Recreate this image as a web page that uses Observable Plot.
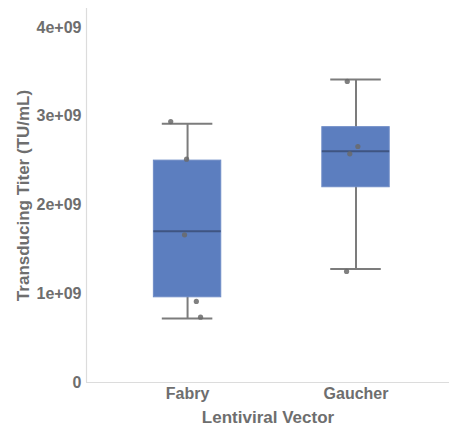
<!DOCTYPE html>
<html><head><meta charset="utf-8">
<script src="https://cdn.jsdelivr.net/npm/d3@7"></script>
<script src="https://cdn.jsdelivr.net/npm/@observablehq/plot@0.6"></script>
<style>
body{margin:0;background:#fff}
#chart svg text{font-weight:bold}
#chart svg g[aria-label="x-axis label"] text, #chart svg g[aria-label="y-axis label"] text{font-size:17px}
</style></head><body><div id="chart"></div>
<script>
const categories = ["Fabry", "Gaucher"];
const lowerWhisker = [0.72e9, 1.28e9];
const q1 = [0.96e9, 2.20e9];
const median = [1.705e9, 2.606e9];
const q3 = [2.50e9, 2.877e9];
const upperWhisker = [2.915e9, 3.414e9];
const fabryPoints = [2.94e9, 2.516e9, 1.664e9, 0.913e9, 0.736e9];
const fabryJitter = [-0.10, -0.006, -0.018, 0.052, 0.077];
const gaucherPoints = [3.392e9, 2.659e9, 2.577e9, 1.251e9];
const gaucherJitter = [-0.052, 0.011, -0.037, -0.056];
const yTicks = [0, 1e9, 2e9, 3e9, 4e9];
const yTickLabels = ["0", "1e+09", "2e+09", "3e+09", "4e+09"];

const boxes = categories.map((c, i) => ({
  cat: c, pos: i + 1, lo: lowerWhisker[i], q1: q1[i], med: median[i], q3: q3[i], hi: upperWhisker[i]
}));
const pts = [
  ...fabryPoints.map((v, i) => ({pos: 1 + fabryJitter[i], v})),
  ...gaucherPoints.map((v, i) => ({pos: 2 + gaucherJitter[i], v}))
];
const xDomain = [0.4, 2.555];
const yDomain = [0, 4.214e9];
const boxHalf = 0.2, capHalf = 0.15;

const chart = Plot.plot({
  width: 449, height: 429,
  marginLeft: 86, marginRight: 0, marginTop: 8, marginBottom: 47,
  style: {fontFamily: "'Liberation Sans', Arial, sans-serif", fontSize: "16px", color: "#6e6e6e", background: "#fff"},
  x: {type: "linear", domain: xDomain, ticks: [1, 2], tickFormat: d => categories[Math.round(d) - 1],
      tickSize: 0, tickPadding: 5, label: "Lentiviral Vector", labelArrow: false, labelAnchor: "center", labelOffset: 40},
  y: {domain: yDomain, ticks: yTicks, tickFormat: d => yTickLabels[yTicks.indexOf(d)],
      tickSize: 0, tickPadding: 5, label: "Transducing Titer (TU/mL)", labelArrow: false, labelAnchor: "center", labelOffset: 70},
  marks: [
    Plot.ruleY([0], {stroke: "#dcdcdc", strokeWidth: 1.2}),
    Plot.ruleX([xDomain[0]], {y1: yDomain[0], y2: yDomain[1], stroke: "#dcdcdc", strokeWidth: 1.2}),
    Plot.ruleX(boxes, {x: "pos", y1: "lo", y2: "hi", stroke: "#7c7c7c", strokeWidth: 2}),
    Plot.ruleY(boxes, {y: "lo", x1: d => d.pos - capHalf, x2: d => d.pos + capHalf, stroke: "#7c7c7c", strokeWidth: 2}),
    Plot.ruleY(boxes, {y: "hi", x1: d => d.pos - capHalf, x2: d => d.pos + capHalf, stroke: "#7c7c7c", strokeWidth: 2}),
    Plot.rect(boxes, {x1: d => d.pos - boxHalf, x2: d => d.pos + boxHalf, y1: "q1", y2: "q3",
      fill: "#5c7ebf", stroke: "#6f8cc6", strokeWidth: 1}),
    Plot.ruleY(boxes, {y: "med", x1: d => d.pos - boxHalf, x2: d => d.pos + boxHalf, stroke: "#3f5581", strokeWidth: 2}),
    Plot.dot(pts, {x: "pos", y: "v", r: 2.6, fill: "#6a6a6a", fillOpacity: 0.85, stroke: "none"})
  ]
});
document.getElementById("chart").append(chart);
</script>
</body></html>
